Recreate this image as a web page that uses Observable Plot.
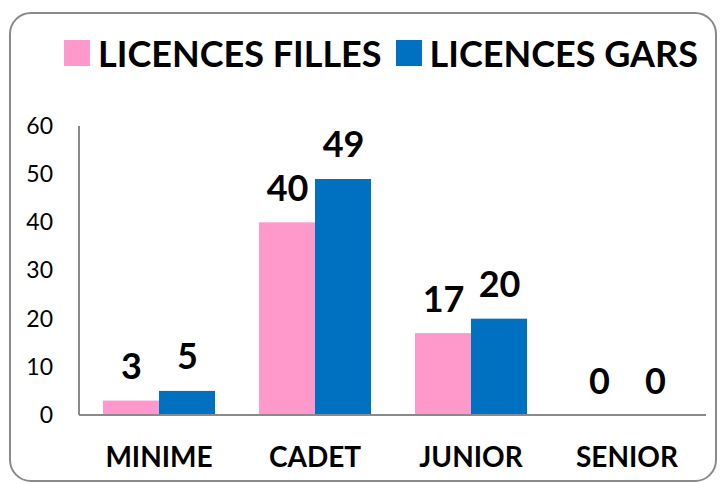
<!DOCTYPE html>
<html>
<head>
<meta charset="utf-8">
<script src="https://cdn.jsdelivr.net/npm/d3@7"></script>
<script src="https://cdn.jsdelivr.net/npm/@observablehq/plot@0.6"></script>
<style>
  html, body { margin: 0; padding: 0; background: #fff; width: 720px; height: 484px; overflow: hidden; }
  #frame { position: absolute; left: 9px; top: 12px; width: 708px; height: 470px; box-sizing: border-box;
           border: 2px solid #8a8a8a; border-radius: 22px; }
  #legend { position: absolute; left: 64px; top: 28px; display: flex; align-items: center;
            font-family: Lato, "Open Sans", sans-serif; font-weight: 700; font-size: 36px; line-height: 50px; color: #000; }
  #legend .item { display: flex; align-items: center; margin-right: 14px; white-space: nowrap; }
  #legend .sw { width: 26px; height: 26px; margin-right: 8px; display: inline-block; }
  #chart { position: absolute; left: 0; top: 90px; }
  #chart svg g[aria-label^="fx-axis"] text { font-weight: 700; font-size: 28px; }
  #chart svg g[aria-label^="y-axis"] text { font-weight: 400; font-size: 23px; }
</style>
</head>
<body>
<div id="frame"></div>
<div id="legend"></div>
<div id="chart"></div>
<script>
const categories = ["MINIME", "CADET", "JUNIOR", "SENIOR"];
const seriesNames = ["LICENCES FILLES", "LICENCES GARS"];
const filles = [3, 40, 17, 0];
const gars = [5, 49, 20, 0];
const colors = ["#FF99CC", "#0070C0"];
const yTicks = [0, 10, 20, 30, 40, 50, 60];

const rows = [];
categories.forEach((c, i) => {
  rows.push({category: c, series: seriesNames[0], value: filles[i]});
  rows.push({category: c, series: seriesNames[1], value: gars[i]});
});

// legend
const legend = document.getElementById("legend");
seriesNames.forEach((s, i) => {
  const it = document.createElement("div");
  it.className = "item";
  const sw = document.createElement("span");
  sw.className = "sw";
  sw.style.background = colors[i];
  it.appendChild(sw);
  it.appendChild(document.createTextNode(s));
  legend.appendChild(it);
});

const W = 720, H = 394, mL = 79, mR = 14, mT = 36, mB = 69;
const tickRight = 53; // right edge of the y tick labels (page x)

const plot = Plot.plot({
  width: W,
  height: H,
  marginLeft: mL,
  marginRight: mR,
  marginTop: mT,
  marginBottom: mB,
  style: {fontFamily: "Lato, 'Open Sans', sans-serif", fontSize: "23px", color: "#000", background: "transparent"},
  facet: {data: rows, x: "category"},
  fx: {domain: categories, paddingInner: 0.274, paddingOuter: 0.137, axis: "bottom", label: null, tickSize: 0, tickPadding: 32},
  x: {domain: seriesNames, padding: 0, axis: null},
  y: {domain: [0, 60], ticks: yTicks, tickSize: 0, tickPadding: 26, label: null},
  color: {domain: seriesNames, range: colors},
  marks: [
    Plot.barY(rows, {x: "series", y: "value", fill: "series"}),
    Plot.text(rows, {x: "series", y: "value", text: d => String(d.value), lineAnchor: "bottom", dy: -22,
                     fontSize: 36, fontWeight: "bold", fill: "#000"})
  ]
});

// axis lines (from the y scale range)
const yr = plot.scale("y").range;
const svgEl = plot.tagName.toLowerCase() === "svg" ? plot : plot.querySelector("svg");
const svg = d3.select(svgEl);
svg.append("line").attr("x1", mL).attr("x2", W - mR).attr("y1", yr[0]).attr("y2", yr[0])
   .attr("stroke", "#8a8a8a").attr("stroke-width", 2);
svg.append("line").attr("x1", mL).attr("x2", mL).attr("y1", yr[1]).attr("y2", yr[0])
   .attr("stroke", "#8a8a8a").attr("stroke-width", 2);

document.getElementById("chart").appendChild(plot);

// align y tick labels' right edge
svg.selectAll('g[aria-label^="y-axis"] text').each(function() {
  const r = this.getBoundingClientRect();
  if (!r.width) return;
  const delta = tickRight - r.right;
  const x0 = parseFloat(this.getAttribute("x")) || 0;
  this.setAttribute("x", x0 + delta);
});
</script>
</body>
</html>
